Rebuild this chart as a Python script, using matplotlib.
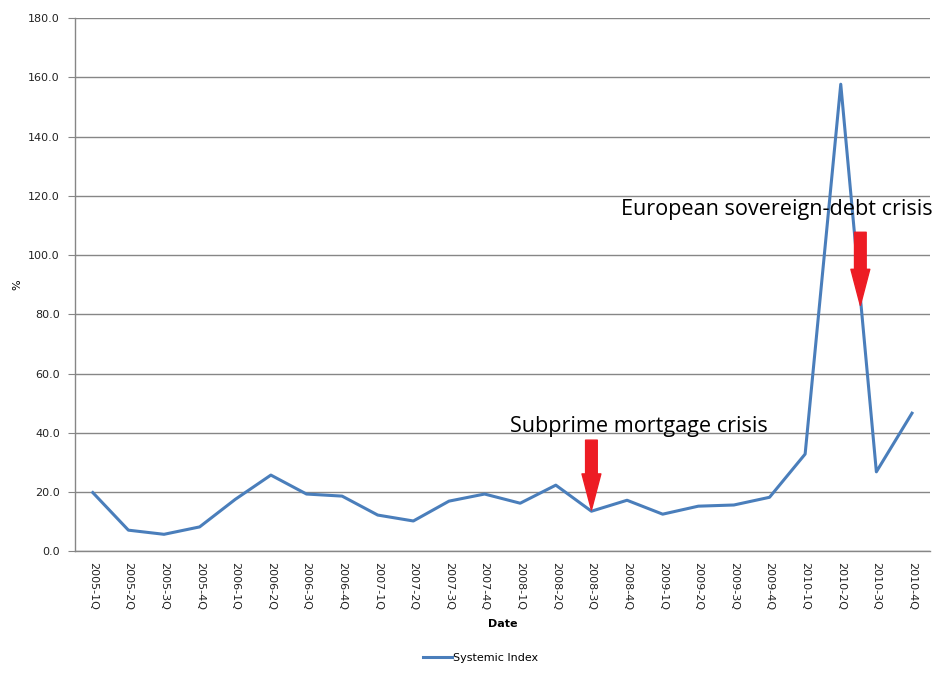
import matplotlib
matplotlib.use("Agg")
import matplotlib.pyplot as plt

categories = ["2005-1Q", "2005-2Q", "2005-3Q", "2005-4Q",
              "2006-1Q", "2006-2Q", "2006-3Q", "2006-4Q",
              "2007-1Q", "2007-2Q", "2007-3Q", "2007-4Q",
              "2008-1Q", "2008-2Q", "2008-3Q", "2008-4Q",
              "2009-1Q", "2009-2Q", "2009-3Q", "2009-4Q",
              "2010-1Q", "2010-2Q", "2010-3Q", "2010-4Q"]
systemic_index = [19.8, 7.1, 5.7, 8.2,
                  17.5, 25.7, 19.3, 18.6,
                  12.2, 10.2, 16.9, 19.3,
                  16.2, 22.3, 13.5, 17.2,
                  12.5, 15.2, 15.6, 18.2,
                  32.8, 157.7, 26.8, 46.6]
y_ticks = [0, 20, 40, 60, 80, 100, 120, 140, 160, 180]

fig = plt.figure(figsize=(9.43, 6.73), dpi=100)
ax = fig.add_axes([0.0795, 0.181, 0.9065, 0.792])

x = list(range(len(categories)))
ax.plot(x, systemic_index, color="#4A7EBB", lw=2.2, label="Systemic Index")

ax.set_xlim(-0.5, len(categories) - 0.5)
ax.set_ylim(0, 180)
ax.set_yticks(y_ticks)
ax.set_yticklabels([f"{v:.1f}" for v in y_ticks], fontsize=8, color="#222222")
ax.set_xticks(x)
ax.set_xticklabels(categories, rotation=270, fontsize=8, color="#222222")
ax.tick_params(axis="x", length=0, pad=8)
ax.tick_params(axis="y", length=5, color="#868686", pad=6)

ax.grid(axis="y", color="#868686", lw=1)
ax.set_axisbelow(True)
for s in ["top", "right"]:
    ax.spines[s].set_visible(False)
for s in ["left", "bottom"]:
    ax.spines[s].set_color("#868686")
    ax.spines[s].set_linewidth(1)

ax.set_xlabel("Date", fontsize=8, fontweight="bold", labelpad=6)
ax.set_ylabel("%", fontsize=8, labelpad=4)

red = "#ED1C24"
style = "simple,head_length=1.3,head_width=0.68,tail_width=0.42"
ax.annotate("", xy=(14, 13.9), xytext=(14, 37.5),
            arrowprops=dict(arrowstyle=style, color=red, mutation_scale=20,
                            shrinkA=0, shrinkB=0))
ax.annotate("", xy=(21.55, 83.0), xytext=(21.55, 107.7),
            arrowprops=dict(arrowstyle=style, color=red, mutation_scale=20,
                            shrinkA=0, shrinkB=0))

ax.text(11.71, 42.2, "Subprime mortgage crisis", fontsize=15.6, family="Open Sans",
        ha="left", va="center")
ax.text(14.83, 115.5, "European sovereign-debt crisis", fontsize=15.6, family="Open Sans",
        ha="left", va="center")

fig.legend(loc="lower center", bbox_to_anchor=(0.51, 0.0), frameon=False, fontsize=8,
           handlelength=2.6, handletextpad=0.1)

fig.savefig("out.png", dpi=100)
